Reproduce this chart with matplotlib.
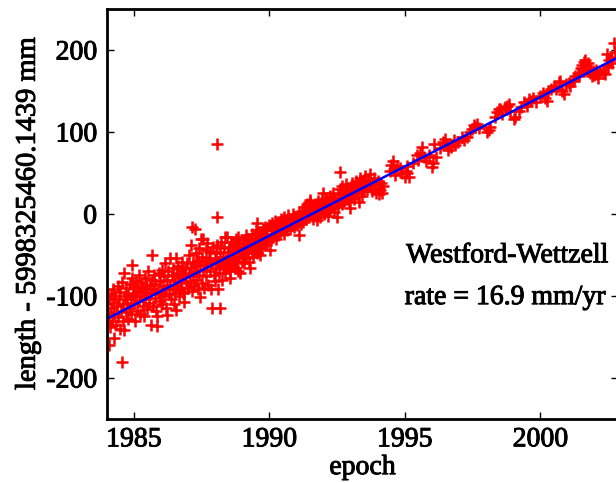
import matplotlib
matplotlib.use("Agg")
import matplotlib.pyplot as plt
import matplotlib.patheffects as pe
import numpy as np

plt.rcParams['font.family'] = ['Liberation Serif', 'DejaVu Serif']
plt.rcParams['axes.unicode_minus'] = False

# 1984 - 1988.5: wide scatter
epoch_early = [1984.02, 1984.03, 1984.05, 1984.06, 1984.08, 1984.08, 1984.10, 1984.12, 1984.15, 1984.17,
               1984.20, 1984.22, 1984.25, 1984.27, 1984.28, 1984.32, 1984.35, 1984.38, 1984.40, 1984.42,
               1984.45, 1984.48, 1984.50, 1984.52, 1984.55, 1984.58, 1984.60, 1984.62, 1984.64, 1984.64,
               1984.66, 1984.70, 1984.72, 1984.75, 1984.78, 1984.80, 1984.83, 1984.86, 1984.88, 1984.90,
               1984.93, 1984.95, 1984.97, 1985.00, 1985.02, 1985.05, 1985.07, 1985.10, 1985.12, 1985.15,
               1985.18, 1985.20, 1985.23, 1985.25, 1985.28, 1985.30, 1985.33, 1985.36, 1985.38, 1985.40,
               1985.43, 1985.46, 1985.48, 1985.50, 1985.53, 1985.56, 1985.58, 1985.62, 1985.64, 1985.66,
               1985.68, 1985.70, 1985.72, 1985.75, 1985.78, 1985.80, 1985.83, 1985.87, 1985.85, 1985.90,
               1985.92, 1985.95, 1985.98, 1986.00, 1986.03, 1986.05, 1986.08, 1986.10, 1986.13, 1986.15,
               1986.18, 1986.20, 1986.22, 1986.24, 1986.27, 1986.30, 1986.32, 1986.35, 1986.38, 1986.40,
               1986.43, 1986.46, 1986.48, 1986.50, 1986.53, 1986.55, 1986.55, 1986.58, 1986.60, 1986.63,
               1986.66, 1986.68, 1986.70, 1986.73, 1986.76, 1986.78, 1986.80, 1986.83, 1986.86, 1986.86,
               1986.90, 1986.93, 1986.96, 1987.00, 1987.02, 1987.05, 1987.08, 1987.10, 1987.12, 1987.15,
               1987.16, 1987.18, 1987.20, 1987.23, 1987.26, 1987.26, 1987.28, 1987.30, 1987.33, 1987.36,
               1987.38, 1987.40, 1987.42, 1987.45, 1987.46, 1987.48, 1987.50, 1987.53, 1987.56, 1987.57,
               1987.60, 1987.62, 1987.65, 1987.67, 1987.70, 1987.72, 1987.75, 1987.78, 1987.80, 1987.82,
               1987.85, 1987.88, 1987.90, 1987.92, 1987.95, 1987.98, 1988.00, 1988.03, 1988.05, 1988.06,
               1988.06, 1988.08, 1988.10, 1988.12, 1988.15, 1988.18, 1988.19, 1988.20, 1988.23, 1988.26,
               1988.28, 1988.30, 1988.33, 1988.36, 1988.38, 1988.40, 1988.43, 1988.45, 1988.48]
length_early = [-110, -132, -98, -120, -125, -160, -104, -138, -99, -115,
                -130, -92, -108, -151, -122, -100, -135, -112, -88, -126,
                -104, -140, -95, -118, -83, -180, -110, -131, -72, -141,
                -100, -120, -90, -108, -128, -97, -115, -85, -104, -122,
                -78, -62, -96, -110, -88, -131, -100, -82, -118, -93,
                -106, -75, -122, -90, -100, -84, -112, -95, -125, -78,
                -104, -88, -116, -96, -70, -108, -86, -135, -98, -80,
                -50, -112, -92, -74, -102, -85, -118, -125, -136, -94,
                -72, -106, -82, -96, -68, -110, -88, -76, -100, -60,
                -92, -115, -80, -123, -70, -98, -54, -86, -104, -74,
                -92, -66, -110, -82, -96, -54, -117, -72, -88, -64,
                -100, -78, -92, -68, -84, -58, -96, -74, -107, -95,
                -66, -82, -60, -90, -72, -50, -84, -38, -66, -94,
                -16, -76, -58, -88, -18, -64, -48, -80, -70, -92,
                -56, -42, -74, -101, -62, -30, -84, -52, -68, -30,
                -90, -58, -44, -76, -62, -36, -86, -54, -70, -46,
                -92, -60, -115, -40, -74, -56, -82, -48, -66, 85,
                -3.5, -38, -92, -58, -72, -46, -115, -62, -34, -80,
                -52, -66, -42, -72, -28, -56, -28, -64, -46]

# 1988.5 - 1994.2: dense, tighter scatter
epoch_mid = [1988.50, 1988.52, 1988.55, 1988.56, 1988.58, 1988.60, 1988.62, 1988.65, 1988.68, 1988.70,
             1988.72, 1988.75, 1988.78, 1988.80, 1988.82, 1988.85, 1988.86, 1988.88, 1988.90, 1988.92,
             1988.95, 1988.98, 1989.00, 1989.03, 1989.05, 1989.08, 1989.10, 1989.13, 1989.15, 1989.18,
             1989.20, 1989.23, 1989.26, 1989.28, 1989.30, 1989.33, 1989.36, 1989.38, 1989.40, 1989.43,
             1989.46, 1989.48, 1989.50, 1989.52, 1989.54, 1989.56, 1989.58, 1989.60, 1989.63, 1989.66,
             1989.68, 1989.70, 1989.73, 1989.76, 1989.78, 1989.80, 1989.83, 1989.86, 1989.88, 1989.90,
             1989.93, 1989.96, 1990.00, 1990.03, 1990.05, 1990.08, 1990.10, 1990.12, 1990.15, 1990.18,
             1990.20, 1990.23, 1990.26, 1990.28, 1990.30, 1990.33, 1990.36, 1990.40, 1990.43, 1990.46,
             1990.50, 1990.53, 1990.56, 1990.60, 1990.63, 1990.66, 1990.70, 1990.73, 1990.76, 1990.80,
             1990.83, 1990.86, 1990.90, 1990.93, 1990.96, 1991.00, 1991.04, 1991.08, 1991.10, 1991.13,
             1991.16, 1991.20, 1991.23, 1991.26, 1991.30, 1991.33, 1991.36, 1991.40, 1991.43, 1991.46,
             1991.50, 1991.51, 1991.53, 1991.56, 1991.60, 1991.63, 1991.66, 1991.70, 1991.73, 1991.76,
             1991.78, 1991.80, 1991.83, 1991.86, 1991.90, 1991.93, 1991.96, 1992.00, 1992.02, 1992.05,
             1992.08, 1992.10, 1992.13, 1992.16, 1992.20, 1992.23, 1992.26, 1992.30, 1992.33, 1992.36,
             1992.40, 1992.43, 1992.46, 1992.50, 1992.52, 1992.55, 1992.58, 1992.62, 1992.62, 1992.65,
             1992.68, 1992.70, 1992.73, 1992.76, 1992.80, 1992.83, 1992.86, 1992.90, 1992.93, 1992.96,
             1992.99, 1993.00, 1993.03, 1993.06, 1993.10, 1993.13, 1993.16, 1993.20, 1993.23, 1993.26,
             1993.30, 1993.33, 1993.36, 1993.40, 1993.43, 1993.46, 1993.48, 1993.50, 1993.55, 1993.58,
             1993.62, 1993.66, 1993.70, 1993.73, 1993.76, 1993.80, 1993.85, 1993.90, 1993.95, 1994.00,
             1994.05, 1994.06, 1994.10, 1994.12, 1994.15, 1994.18]
length_mid = [-60, -40, -70, -78, -50, -34, -62, -44, -56, -38,
              -66, -48, -30, -58, -42, -70, -28, -52, -36, -72,
              -46, -58, -40, -50, -32, -60, -44, -26, -54, -38,
              -48, -30, -58, -42, -66, -34, -46, -24, -52, -36,
              -28, -44, -20, -38, -11.6, -48, -30, -40, -22, -50,
              -34, -26, -42, -18, -32, -24, -38, -16, -28, -34,
              -20, -30, -14, -44, -24, -32, -11.6, -20, -28, -16,
              -24, -8, -30, -10, -20, -26, -14, -22, -6, -18,
              -12, -24, -4, -16, -8, -20, -1.5, -12, -18, -6,
              -14, 0, -10, -16, -4, -8, -14, -26, 2, -6,
              -12, 4, -2, -10, 8, 0, -6, 12, 2, -4,
              14, 16.8, 6, -2, 10, -6, 4, 12, -2, -7.5,
              8, 16, 2, -4, 10, 18, 6, 25, 0, 12,
              4, 20, 8, -2, 14, 22, 6, 16, 10, 26,
              2, 18, 12, -3.5, 24, 8, 16, 51, 30, 20,
              12, 34, 24, 16, 28, 36, 20, 30, 14, 26,
              6.7, 32, 22, 38, 28, 18, 34, 40, 26, 30,
              14.7, 36, 44, 32, 22, 40, 41, 28, 46, 36,
              30, 42, 34, 49, 38, 28, 44, 36, 26, 40,
              32, 24, 29, 38, 26, 34]

# 1994.4 - 2003: sparser sessions
epoch_late = [1994.45, 1994.50, 1994.55, 1994.60, 1994.65, 1994.70, 1994.84, 1994.90, 1995.00, 1995.05,
              1995.08, 1995.10, 1995.15, 1995.30, 1995.45, 1995.50, 1995.55, 1995.64, 1995.70, 1995.80,
              1995.90, 1996.00, 1996.05, 1996.07, 1996.15, 1996.30, 1996.40, 1996.50, 1996.55, 1996.60,
              1996.70, 1996.80, 1996.87, 1996.95, 1997.10, 1997.20, 1997.30, 1997.40, 1997.48, 1997.55,
              1997.60, 1997.67, 1997.75, 1998.04, 1998.10, 1998.15, 1998.34, 1998.40, 1998.47, 1998.53,
              1998.60, 1998.70, 1998.78, 1998.84, 1998.90, 1999.02, 1999.08, 1999.20, 1999.30, 1999.40,
              1999.50, 1999.57, 1999.65, 1999.75, 1999.85, 2000.00, 2000.10, 2000.18, 2000.25, 2000.30,
              2000.40, 2000.50, 2000.60, 2000.68, 2000.74, 2000.80, 2000.86, 2000.95, 2001.05, 2001.11,
              2001.20, 2001.24, 2001.30, 2001.40, 2001.45, 2001.50, 2001.55, 2001.60, 2001.62, 2001.65,
              2001.70, 2001.73, 2001.78, 2001.82, 2001.85, 2001.90, 2001.95, 2002.00, 2002.05, 2002.10,
              2002.15, 2002.20, 2002.30, 2002.40, 2002.45, 2002.47, 2002.52, 2002.55, 2002.60, 2002.65,
              2002.71, 2002.75, 2002.80]
length_late = [52, 60, 64, 55, 48, 58, 55.7, 50, 45, 52,
               49.6, 58, 45, 62, 71.5, 66, 74, 81.6, 70, 64,
               72, 57, 62, 85.7, 70, 80, 88, 91.8, 84, 77.6,
               82, 90, 83.6, 88, 94, 90, 93.7, 100, 104, 108,
               106, 110, 105, 100, 102, 106, 118, 124, 128, 128,
               122, 130, 132, 134, 126, 116, 118, 126, 130, 136,
               132, 140, 138, 142, 136, 144, 148, 142, 138, 150,
               152, 156, 152, 160.6, 162, 150, 146.8, 158, 160, 156.6,
               162, 164.7, 168, 172, 168, 178, 182, 185, 176, 188,
               180, 175, 184, 172, 178, 168, 174, 170, 176, 171,
               166, 174, 172, 171, 182, 195, 179, 188, 192, 184,
               209, 198, 190]

# fitted trend, 16.9 mm/yr
fit_epoch = [1984.0, 2003.0]
fit_length = [-128.0, 193.1]

fig = plt.figure(figsize=(6.16, 4.83), dpi=100)
ax = fig.add_axes([0.1732, 0.1325, 0.830, 0.849])

for ep, ln in [(epoch_early, length_early), (epoch_mid, length_mid), (epoch_late, length_late)]:
    ax.plot(ep, ln, linestyle='none', marker='+', color='#ff0000', markersize=8, markeredgewidth=1.8)
ax.plot(fit_epoch, fit_length, color='#0000ff', linewidth=1.8)

ax.set_xlim(1984, 2002.87)
ax.set_ylim(-250, 250)
ax.set_xticks([1985, 1990, 1995, 2000])
ax.set_yticks([-200, -100, 0, 100, 200])
ax.tick_params(direction='in', length=5, width=1, top=True, right=True, labelsize=20)
ax.tick_params(axis='x', pad=6)
ax.tick_params(axis='y', pad=7)
for sp in ax.spines.values():
    sp.set_linewidth(2)

thick = [pe.withStroke(linewidth=0.7, foreground='black')]
ax.set_xlabel('epoch', fontsize=20, labelpad=2, path_effects=thick)
ax.set_ylabel('length - 5998325460.1439 mm', fontsize=20.5, labelpad=4, path_effects=thick)
for lbl in ax.get_xticklabels() + ax.get_yticklabels():
    lbl.set_path_effects(thick)

ax.text(1995.05, -51, 'Westford-Wettzell', fontsize=20, va='center', ha='left', path_effects=thick)
ax.text(1995.0, -102, 'rate = 16.9 mm/yr', fontsize=20, va='center', ha='left', path_effects=thick)

fig.savefig('out.png', dpi=100)
